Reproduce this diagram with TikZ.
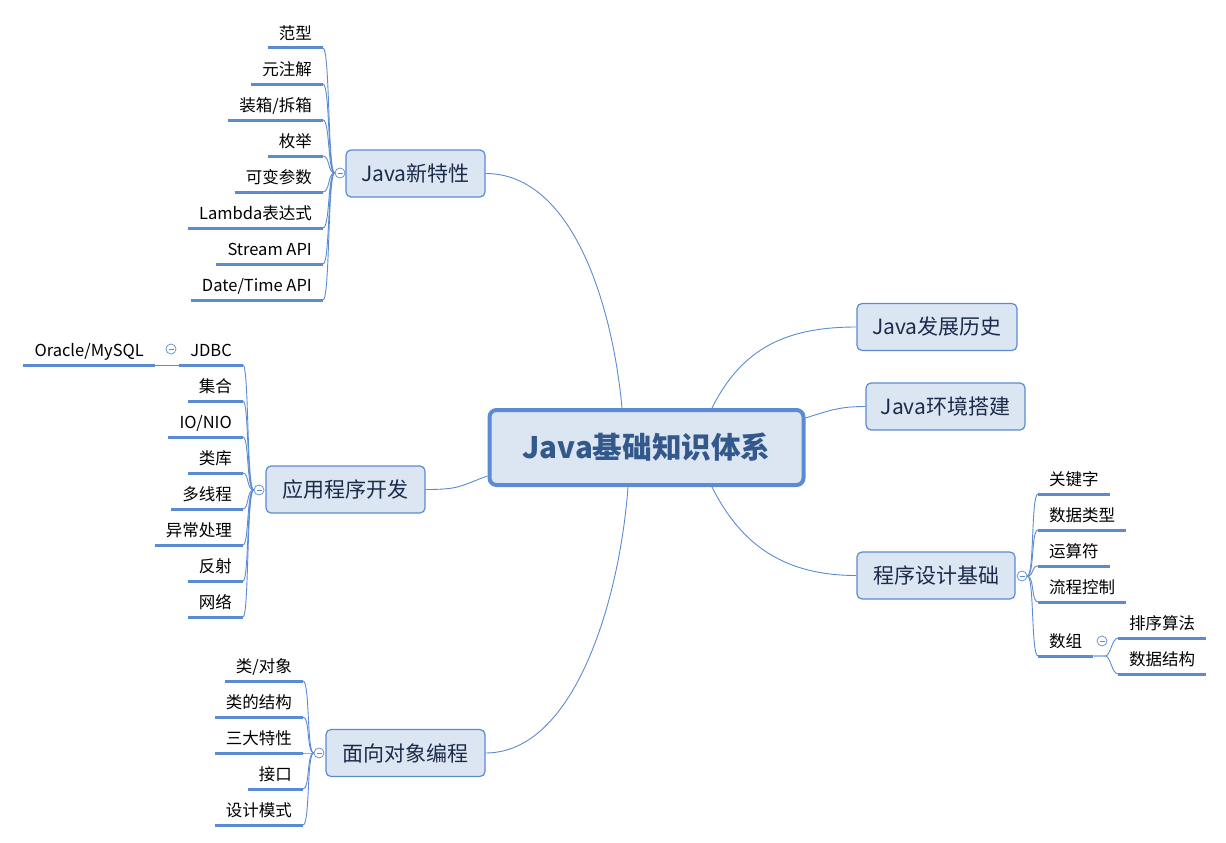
\documentclass[tikz,border=0pt]{standalone}
\usepackage{fontspec}
\setmainfont{Noto Sans CJK SC}
\definecolor{mindblue}{HTML}{5A8BD3}
\definecolor{boxfill}{HTML}{DCE6F2}
\definecolor{titleblue}{HTML}{33598C}
\definecolor{topictext}{HTML}{1C2A4C}

\begin{document}
\begin{tikzpicture}[x=1pt, y=-1pt,
        % 通用樣式
        mainbox/.style={draw=mindblue, line width=4pt, fill=boxfill, rounded corners=7pt,
            minimum width=314pt, minimum height=75pt, inner sep=0pt,
            font=\fontsize{29.6}{32}\selectfont\bfseries, text=titleblue}, % 中心主題
        topic/.style={draw=mindblue, line width=1.2pt, fill=boxfill, rounded corners=5pt,
            minimum height=47pt, inner sep=0pt,
            font=\fontsize{21}{24}\selectfont, text=topictext}, % 分支主題
        leaf/.style={font=\fontsize{16.5}{19}\selectfont, inner xsep=11pt, inner ysep=5pt,
            text height=12pt, text depth=3pt}, % 子主題
        uline/.style={draw=mindblue, line width=3pt}, % 底線
        trunk/.style={draw=mindblue, line width=0.9pt}, % 連線
        fold/.style={circle, draw=mindblue, fill=white, line width=0.7pt, minimum size=10pt,
            inner sep=0pt, path picture={\draw[mindblue, line width=0.7pt]
            ([xshift=2.5pt]path picture bounding box.west) -- ([xshift=-2.5pt]path picture bounding box.east);}} % 摺疊圓圈
    ]
    \useasboundingbox (0,0) rectangle (1226,843);

    % --- 中心主題 ---
    \node[mainbox] (main) at (646.5,447.5) {Java基础知识体系};

    % --- 分支主題 ---
    \node[topic, minimum width=139pt] (xtx) at (415.5,173.5) {Java新特性};
    \node[topic, minimum width=159pt] (yy)  at (345.5,489.5) {应用程序开发};
    \node[topic, minimum width=159pt] (mx)  at (405.5,753)   {面向对象编程};
    \node[topic, minimum width=160pt] (ls)  at (937,327)     {Java发展历史};
    \node[topic, minimum width=159pt] (hj)  at (945.5,406.5) {Java环境搭建};
    \node[topic, minimum width=158pt] (jc)  at (936,575.5)   {程序设计基础};

    % 1. 主題連線
    \draw[trunk] (xtx.east) .. controls +(85,0) and +(-10,-108) .. ([xshift=-24.5pt]main.north);
    \draw[trunk] (yy.east) .. controls +(35,0) and +(-28,10) .. ([yshift=-28.5pt]main.west);
    \draw[trunk] (mx.east) .. controls +(90,0) and +(-8,110) .. ([xshift=-18.5pt]main.south);
    \draw[trunk] ([xshift=65.5pt]main.north) .. controls +(30,-60) and +(-70,0) .. (ls.west);
    \draw[trunk] ([yshift=29.5pt]main.east) .. controls +(25,-8) and +(-25,0) .. (hj.west);
    \draw[trunk] ([xshift=65.5pt]main.south) .. controls +(30,60) and +(-70,0) .. (jc.west);

    % 2. 摺疊圓圈
    \node[fold] (fxtx) at (340,173) {};
    \node[fold] (fyy)  at (259,490) {};
    \node[fold] (fmx)  at (319,753) {};
    \node[fold] (fjc)  at (1022,576) {};
    \node[fold] (fjdbc) at (171,349) {};
    \node[fold] (fsz)  at (1102,641) {};

    % 3. 子主題: Java新特性
    \node[leaf, anchor=south east] (a1) at (323,48)  {范型};
    \node[leaf, anchor=south east] (a2) at (323,84)  {元注解};
    \node[leaf, anchor=south east] (a3) at (323,120) {装箱/拆箱};
    \node[leaf, anchor=south east] (a4) at (323,156) {枚举};
    \node[leaf, anchor=south east] (a5) at (323,192) {可变参数};
    \node[leaf, anchor=south east] (a6) at (323,228) {Lambda表达式};
    \node[leaf, anchor=south east] (a7) at (323,264) {Stream API};
    \node[leaf, anchor=south east] (a8) at (323,300) {Date/Time API};

    % 4. 子主題: 应用程序开发
    \node[leaf, anchor=south east] (b1) at (243,365) {JDBC};
    \node[leaf, anchor=south east] (b2) at (243,401) {集合};
    \node[leaf, anchor=south east] (b3) at (243,437) {IO/NIO};
    \node[leaf, anchor=south east] (b4) at (243,473) {类库};
    \node[leaf, anchor=south east] (b5) at (243,509) {多线程};
    \node[leaf, anchor=south east] (b6) at (243,545) {异常处理};
    \node[leaf, anchor=south east] (b7) at (243,581) {反射};
    \node[leaf, anchor=south east] (b8) at (243,617) {网络};
    \node[leaf, anchor=south east] (b9) at (155,365) {Oracle/MySQL};

    % 5. 子主題: 面向对象编程
    \node[leaf, anchor=south east] (c1) at (303,681) {类/对象};
    \node[leaf, anchor=south east] (c2) at (303,717) {类的结构};
    \node[leaf, anchor=south east] (c3) at (303,753) {三大特性};
    \node[leaf, anchor=south east] (c4) at (303,789) {接口};
    \node[leaf, anchor=south east] (c5) at (303,825) {设计模式};

    % 6. 子主題: 程序设计基础
    \node[leaf, anchor=south west] (d1) at (1038,494) {关键字};
    \node[leaf, anchor=south west] (d2) at (1038,530) {数据类型};
    \node[leaf, anchor=south west] (d3) at (1038,566) {运算符};
    \node[leaf, anchor=south west] (d4) at (1038,602) {流程控制};
    \node[leaf, anchor=south west] (d5) at (1038,656) {数组};
    \node[leaf, anchor=south west] (d6) at (1118,638) {排序算法};
    \node[leaf, anchor=south west] (d7) at (1118,674) {数据结构};

    % 7. 子主題連線
    \foreach \n in {a1,a2,a3,a4,a5,a6,a7,a8}
        \draw[trunk] (fxtx.west) .. controls +(-7,0) and +(7,0) .. (\n.south east);
    \foreach \n in {b1,b2,b3,b4,b5,b6,b7,b8}
        \draw[trunk] (fyy.west) .. controls +(-7,0) and +(6,0) .. (\n.south east);
    \foreach \n in {c1,c2,c3,c4,c5}
        \draw[trunk] (fmx.west) .. controls +(-7,0) and +(7,0) .. (\n.south east);
    \foreach \n in {d1,d2,d3,d4,d5}
        \draw[trunk] (fjc.east) .. controls +(7,0) and +(-7,0) .. (\n.south west);
    \draw[trunk] (b1.south west) -- (b9.south east);
    \foreach \n in {d6,d7}
        \draw[trunk] (d5.south east) -- ++(12,0) .. controls +(5,0) and +(-6,0) .. (\n.south west);

    % 8. 底線
    \foreach \n in {a1,a2,a3,a4,a5,a6,a7,a8,b1,b2,b3,b4,b5,b6,b7,b8,b9,c1,c2,c3,c4,c5,d1,d2,d3,d4,d5,d6,d7}
        \draw[uline] (\n.south west) -- (\n.south east);

\end{tikzpicture}
\end{document}
